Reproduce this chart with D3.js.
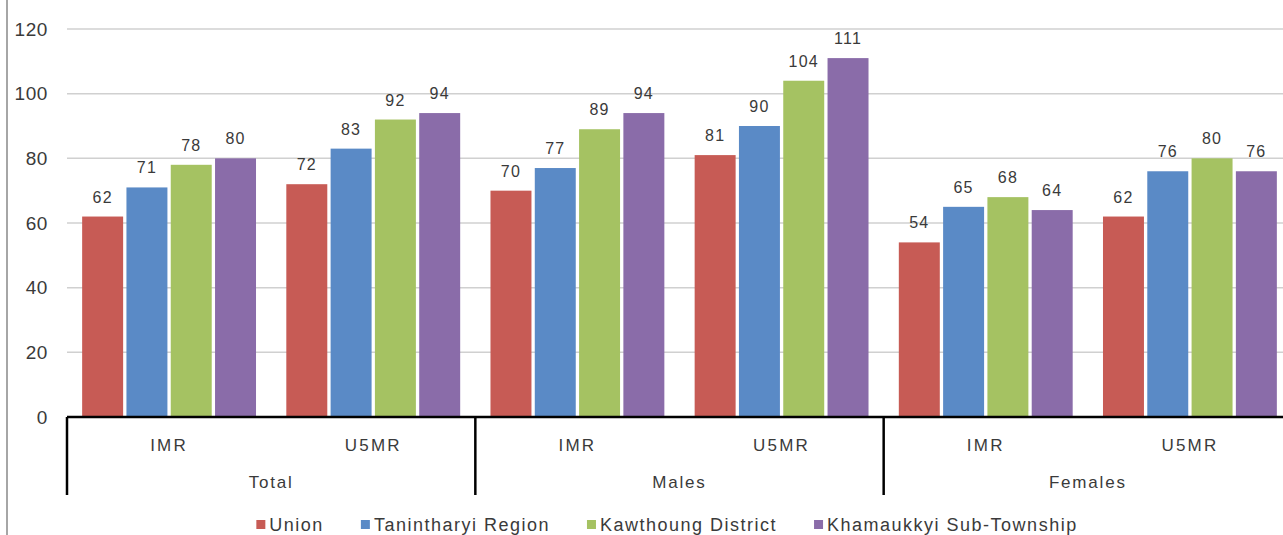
<!DOCTYPE html>
<html>
<head>
<meta charset="utf-8">
<script src="https://cdn.jsdelivr.net/npm/d3@7"></script>
<style>
  html, body { margin: 0; padding: 0; background: #fff; }
  svg { display: block; font-family: Arial, "Liberation Sans", sans-serif; }
</style>
</head>
<body>
<svg id="chart" width="1283" height="535"></svg>
<script>
// ---- data ----
const groups = ["Total", "Males", "Females"];
const measures = ["IMR", "U5MR"];
const seriesNames = ["Union", "Tanintharyi Region", "Kawthoung District", "Khamaukkyi Sub-Township"];
const seriesColors = ["#C75B55", "#5A8AC6", "#A5C262", "#8A6CA9"];
// values per series, in order: Total IMR, Total U5MR, Males IMR, Males U5MR, Females IMR, Females U5MR
const unionValues = [62, 72, 70, 81, 54, 62];
const tanintharyiValues = [71, 83, 77, 90, 65, 76];
const kawthoungValues = [78, 92, 89, 104, 68, 80];
const khamaukkyiValues = [80, 94, 94, 111, 64, 76];
const yTicks = [0, 20, 40, 60, 80, 100, 120];

const seriesValues = [unionValues, tanintharyiValues, kawthoungValues, khamaukkyiValues];
const categories = [];
groups.forEach(g => measures.forEach(m => categories.push({ key: g + "|" + m, group: g, measure: m })));

const svg = d3.select("#chart");
const textColor = "#3a3a3a";

// chart-area left border
svg.append("line").attr("x1", 7).attr("x2", 7).attr("y1", 0).attr("y2", 535)
  .attr("stroke", "#a6a6a6").attr("stroke-width", 2);

const x0 = 67, x1 = 1292;
const y = d3.scaleLinear().domain([0, 120]).range([417, 29]);
const xCat = d3.scaleBand().domain(categories.map(c => c.key)).range([x0, x1]).padding(0);
const xGroup = d3.scaleBand().domain(groups).range([x0, x1]).padding(0);
const xSeries = d3.scaleBand().domain(seriesNames).range([0, xCat.bandwidth()])
  .paddingInner(0.075).paddingOuter(0.342);

// gridlines
svg.append("g").selectAll("line").data(yTicks.filter(t => t > 0)).join("line")
  .attr("x1", x0).attr("x2", x1)
  .attr("y1", d => y(d)).attr("y2", d => y(d))
  .attr("stroke", "#d0d0d0").attr("stroke-width", 1.5);

// y axis labels
const yAxis = d3.axisLeft(y).tickValues(yTicks).tickSize(0).tickPadding(0);
const yg = svg.append("g").attr("transform", "translate(48,0)").call(yAxis);
yg.select(".domain").remove();
yg.selectAll("text").attr("font-size", 19).attr("fill", textColor)
  .attr("font-family", "Arial, 'Liberation Sans', sans-serif").attr("letter-spacing", "0.6px");

// bars
seriesNames.forEach((s, si) => {
  const g = svg.append("g");
  g.selectAll("rect").data(categories.map((c, ci) => ({ c, v: seriesValues[si][ci] }))).join("rect")
    .attr("x", d => xCat(d.c.key) + xSeries(s))
    .attr("width", xSeries.bandwidth())
    .attr("y", d => y(d.v))
    .attr("height", d => y(0) - y(d.v))
    .attr("fill", seriesColors[si]);
  g.selectAll("text").data(categories.map((c, ci) => ({ c, v: seriesValues[si][ci] }))).join("text")
    .attr("x", d => xCat(d.c.key) + xSeries(s) + xSeries.bandwidth() / 2)
    .attr("y", d => y(d.v) - 14)
    .attr("text-anchor", "middle")
    .attr("font-size", 16).attr("letter-spacing", "1.2px")
    .attr("fill", textColor)
    .text(d => d.v);
});

// x axis line
svg.append("line").attr("x1", x0).attr("x2", x1).attr("y1", y(0)).attr("y2", y(0))
  .attr("stroke", "#000").attr("stroke-width", 2.5);

// group dividers
const dividers = groups.map(g => xGroup(g)).concat([x1]);
svg.append("g").selectAll("line").data(dividers).join("line")
  .attr("x1", d => d).attr("x2", d => d).attr("y1", y(0)).attr("y2", 495)
  .attr("stroke", "#000").attr("stroke-width", 2.5);

// measure labels
svg.append("g").selectAll("text").data(categories).join("text")
  .attr("x", d => xCat(d.key) + xCat.bandwidth() / 2)
  .attr("y", 451)
  .attr("text-anchor", "middle").attr("font-size", 17).attr("letter-spacing", "2.2px")
  .attr("fill", textColor).text(d => d.measure);

// group labels
svg.append("g").selectAll("text").data(groups).join("text")
  .attr("x", d => xGroup(d) + xGroup.bandwidth() / 2)
  .attr("y", 488)
  .attr("text-anchor", "middle").attr("font-size", 17).attr("letter-spacing", "1.8px")
  .attr("fill", textColor).text(d => d);

// legend
const legend = svg.append("g");
const items = legend.selectAll("g").data(seriesNames).join("g");
items.append("rect").attr("width", 9).attr("height", 9).attr("y", -5)
  .attr("fill", (d, i) => seriesColors[i]);
items.append("text").attr("x", 13).attr("y", 6)
  .attr("font-size", 18).attr("letter-spacing", "1.5px")
  .attr("fill", textColor).text(d => d);
let cx = 0;
const positions = [];
items.each(function () {
  const w = 13 + d3.select(this).select("text").node().getComputedTextLength();
  positions.push(cx);
  cx += w + 37;
});
const totalW = cx - 37;
const startX = 667 - totalW / 2;
items.attr("transform", (d, i) => `translate(${startX + positions[i]},525)`);
</script>
</body>
</html>
